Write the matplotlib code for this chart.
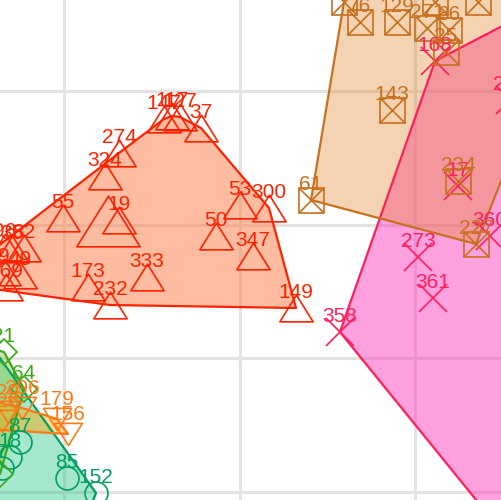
import numpy as np
import matplotlib.pyplot as plt
from matplotlib.path import Path

plt.rcParams['font.family'] = ['Liberation Sans', 'DejaVu Sans']

# ---- data (zoomed window of a larger labelled scatter, y grows downward) ----
red_lab = ["274", "324", "55", "19", "", "173", "232", "333", "50", "53", "300", "347",
           "37", "149", "147", "117", "127", "96", "35", "82", "9", "49", "169", "5"]
red_x = [119, 105, 63, 119, 108, 88, 110, 147, 216, 240, 269, 253,
         201, 296, 164, 172, 180, 5, 12, 24, 4, 20, 6, -50]
red_y = [153, 176, 218, 220, 221, 287, 305, 277, 236, 205, 208, 256,
         128, 308, 119, 116, 117, 247, 249, 248, 272, 275, 287, 283]
red_w = [1, 1, 1, 1, 1.9, 1, 1, 1, 1, 1, 1, 1, 1, 1, 1, 1, 1, 1, 1, 1, 1, 1, 1, 1]

brown_lab = ["61", "143", "234", "227", "25", "76", "129", "88", "12", "271", "86", "3",
             "194", "65", "208"]
brown_x = [311, 392, 458, 476, 446, 360, 397, 344, 435, 427, 449, 478, 352, 530, 520]
brown_y = [200, 110, 181, 244, 52, 22, 22, 2, 2, 28, 30, 2, -30, -30, 134]

pink_lab = ["168", "215", "17", "360", "273", "361", "358", "46", "312", "99"]
pink_x = [435, 510, 458, 490, 418, 433, 340, 560, 640, 520]
pink_y = [61, 100, 186, 236, 257, 298, 332, -4, 250, 554]

teal_lab = ["85", "152", "18", "87", "7", "40", "111", "70"]
teal_x = [67, 96, 10, 20, 2, -20, -40, 70]
teal_y = [478, 493, 457, 442, 468, 330, 560, 560]

lime_lab = ["21", "64", "", "302", "116"]
lime_x = [4, 24, 0, -40, -40]
lime_y = [352, 389, 474, 340, 480]

orange_lab = ["296", "179", "156", "29", "226", "183", "290"]
orange_x = [22, 57, 68, 8, 2, -30, -30]
orange_y = [408, 419, 434, 412, 421, 396, 428]

grid_x = [64.5, 240, 415.5]
grid_y = [91, 224.5, 358, 492]


def convex_hull(xs, ys):
    pts = sorted(set(zip(xs, ys)))

    def cross(o, a, b):
        return (a[0] - o[0]) * (b[1] - o[1]) - (a[1] - o[1]) * (b[0] - o[0])

    lower, upper = [], []
    for p in pts:
        while len(lower) >= 2 and cross(lower[-2], lower[-1], p) <= 0:
            lower.pop()
        lower.append(p)
    for p in reversed(pts):
        while len(upper) >= 2 and cross(upper[-2], upper[-1], p) <= 0:
            upper.pop()
        upper.append(p)
    h = lower[:-1] + upper[:-1]
    return np.array(h)


def closed_marker(verts):
    codes = [Path.MOVETO] + [Path.LINETO] * (len(verts) - 1) + [Path.CLOSEPOLY]
    return Path(verts + [verts[0]], codes)


tri_up = closed_marker([(-0.5, -0.4), (0.5, -0.4), (0, 0.4)])
tri_down = closed_marker([(-0.5, 0.4), (0.5, 0.4), (0, -0.4)])

groups = [
    # (labels, x, y, colour, fill, fill alpha, markers, label offset)
    (teal_lab, teal_x, teal_y, '#00a060', '#1ec582', 0.4, [('o', 16.5)], 7),
    (lime_lab, lime_x, lime_y, '#3aaa1a', '#88c030', 0.4, [('D', 13)], 7),
    (orange_lab, orange_x, orange_y, '#ff7a14', '#ffa600', 0.45, [(tri_down, 20)], 10),
    (red_lab, red_x, red_y, '#ff2200', '#ff7b45', 0.5, [(tri_up, 24)], 7),
    (pink_lab, pink_x, pink_y, '#ff1f5a', '#ff2cba', 0.45, [('x', 19.5)], 7),
    (brown_lab, brown_x, brown_y, '#c8701e', '#e0862a', 0.36, [('s', 18), ('x', 18)], 7),
]

fig = plt.figure(figsize=(5.01, 5.0), dpi=100)
ax = fig.add_axes([0, 0, 1, 1])
ax.set_xlim(0, 501)
ax.set_ylim(500, 0)
ax.set_xticks(grid_x)
ax.set_yticks(grid_y)
ax.grid(True, color='#e2e2e2', linewidth=2.2)
ax.set_axisbelow(True)
ax.tick_params(length=0, labelbottom=False, labelleft=False)
for s in ax.spines.values():
    s.set_visible(False)

# hull fills first, then hull outlines, then points and labels
for lab, xs, ys, col, fcol, a, mk, off in groups:
    h = convex_hull(xs, ys)
    ax.fill(h[:, 0], h[:, 1], color=fcol, alpha=a, lw=0, zorder=1)

for lab, xs, ys, col, fcol, a, mk, off in groups:
    h = convex_hull(xs, ys)
    hc = np.vstack([h, h[:1]])
    ax.plot(hc[:, 0], hc[:, 1], color=col, lw=1.6, zorder=2)

for lab, xs, ys, col, fcol, a, mk, off in groups:
    w = red_w if lab is red_lab else [1] * len(xs)
    for i in range(len(xs)):
        for m, ms in mk:
            ax.plot(xs[i], ys[i], marker=m, ms=ms * w[i], mfc='none', mec=col,
                    mew=1.2, ls='none', zorder=3)
        if lab[i]:
            t = ax.annotate(lab[i], (xs[i], ys[i]), xytext=(0, off), textcoords='offset points',
                            ha='center', va='baseline', fontsize=15, color=col,
                            annotation_clip=False, zorder=4)
            t.set_clip_on(True)

fig.savefig('out.png', dpi=100)
